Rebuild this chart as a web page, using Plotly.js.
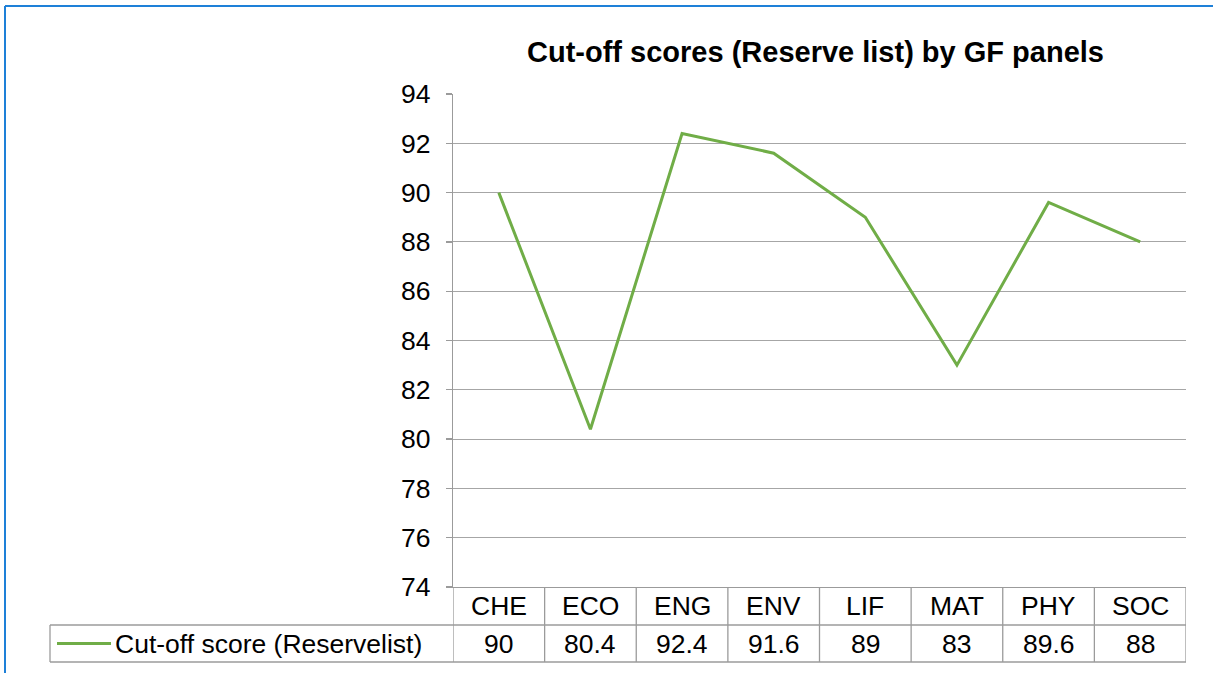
<!DOCTYPE html>
<html>
<head>
<meta charset="utf-8">
<script src="https://cdn.plot.ly/plotly-3.0.1.min.js"></script>
<style>html,body{margin:0;padding:0;background:#fff;}#chart{width:1213px;height:673px;}</style>
</head>
<body>
<div id="chart"></div>
<script>
const categories = ["CHE", "ECO", "ENG", "ENV", "LIF", "MAT", "PHY", "SOC"];
const scores = [90, 80.4, 92.4, 91.6, 89, 83, 89.6, 88];
const seriesName = "Cut-off score (Reservelist)";
const yTicks = [74, 76, 78, 80, 82, 84, 86, 88, 90, 92, 94];

const W = 1213, H = 673;
const L = 453, R = 1186, T = 94, B = 587;
const plotH = B - T, plotW = R - L;
const py = p => (B - p) / plotH;   // pixel y -> paper y
const px = p => (p - L) / plotW;   // pixel x -> paper x

const FONT = "Liberation Sans, Arial, sans-serif";
const green = "#70AD47";
const tableColor = "#9B9B9B";
const gridColor = "#A6A6A6";
const FS = 26.5;

const n = categories.length;
const idx = categories.map((c, i) => i);

const shapes = [];
const annotations = [];
const rowTop = B, rowMid = 625, rowBot = 662;
const legendLeft = 50;

shapes.push({type:"line", xref:"paper", yref:"paper", x0:px(legendLeft), x1:1, y0:py(rowMid), y1:py(rowMid), line:{color:tableColor, width:1.3}});
shapes.push({type:"line", xref:"paper", yref:"paper", x0:px(legendLeft), x1:1, y0:py(rowBot), y1:py(rowBot), line:{color:tableColor, width:1.3}});
shapes.push({type:"line", xref:"paper", yref:"paper", x0:px(legendLeft), x1:px(legendLeft), y0:py(rowMid), y1:py(rowBot), line:{color:tableColor, width:1.3}});
for (let i = 0; i <= n; i++) {
  shapes.push({type:"line", xref:"x", yref:"paper", x0:i-0.5, x1:i-0.5, y0:py(rowTop), y1:py(rowBot), line:{color:tableColor, width:1.3}});
}
categories.forEach((c, i) => {
  annotations.push({xref:"x", yref:"paper", x:i, y:py((rowTop+rowMid)/2), text:c, showarrow:false, xanchor:"center", yanchor:"middle", font:{family:FONT, size:FS, color:"#000"}});
  annotations.push({xref:"x", yref:"paper", x:i, y:py((rowMid+rowBot)/2), text:String(scores[i]), showarrow:false, xanchor:"center", yanchor:"middle", font:{family:FONT, size:FS, color:"#000"}});
});
shapes.push({type:"line", xref:"paper", yref:"paper", x0:px(57), x1:px(111), y0:py(643.5), y1:py(643.5), line:{color:green, width:3}});
annotations.push({xref:"paper", yref:"paper", x:px(113), y:py((rowMid+rowBot)/2), text:seriesName, showarrow:false, xanchor:"left", yanchor:"middle", font:{family:FONT, size:FS, color:"#000"}});

shapes.push({type:"line", xref:"paper", yref:"paper", x0:px(5), x1:px(W+10), y0:py(6), y1:py(6), line:{color:"#1E80D8", width:2}});
shapes.push({type:"line", xref:"paper", yref:"paper", x0:px(5), x1:px(5), y0:py(6), y1:py(H+10), line:{color:"#1E80D8", width:2}});

const trace = {
  x: idx, y: scores, type:"scatter", mode:"lines", name: seriesName,
  line:{color:green, width:3}, hoverinfo:"skip"
};

const layout = {
  width: W, height: H,
  margin:{l:L, r:W-R, t:T, b:H-B, pad:0},
  paper_bgcolor:"#fff", plot_bgcolor:"#fff",
  showlegend:false,
  title:{text:"<b>Cut-off scores (Reserve list) by GF panels</b>", x:px(815.5), xref:"paper", y:1-52/H, yref:"container", yanchor:"middle", xanchor:"center", font:{family:FONT, size:29, color:"#000"}},
  xaxis:{range:[-0.5, n-0.5], showticklabels:false, showgrid:false, zeroline:false, showline:true, linecolor:tableColor, linewidth:1.3, ticks:"", fixedrange:true},
  yaxis:{range:[74, 94], tickvals:yTicks, ticktext:yTicks.map(String), showgrid:true, gridcolor:gridColor, gridwidth:1, zeroline:false, showline:true, linecolor:tableColor, linewidth:1.3, ticks:"outside", ticklen:6, tickcolor:tableColor, tickwidth:1.3, ticklabelstandoff:10, tickfont:{family:FONT, size:FS, color:"#000"}, fixedrange:true},
  shapes: shapes,
  annotations: annotations
};

Plotly.newPlot("chart", [trace], layout, {displayModeBar:false, staticPlot:true});
</script>
</body>
</html>
